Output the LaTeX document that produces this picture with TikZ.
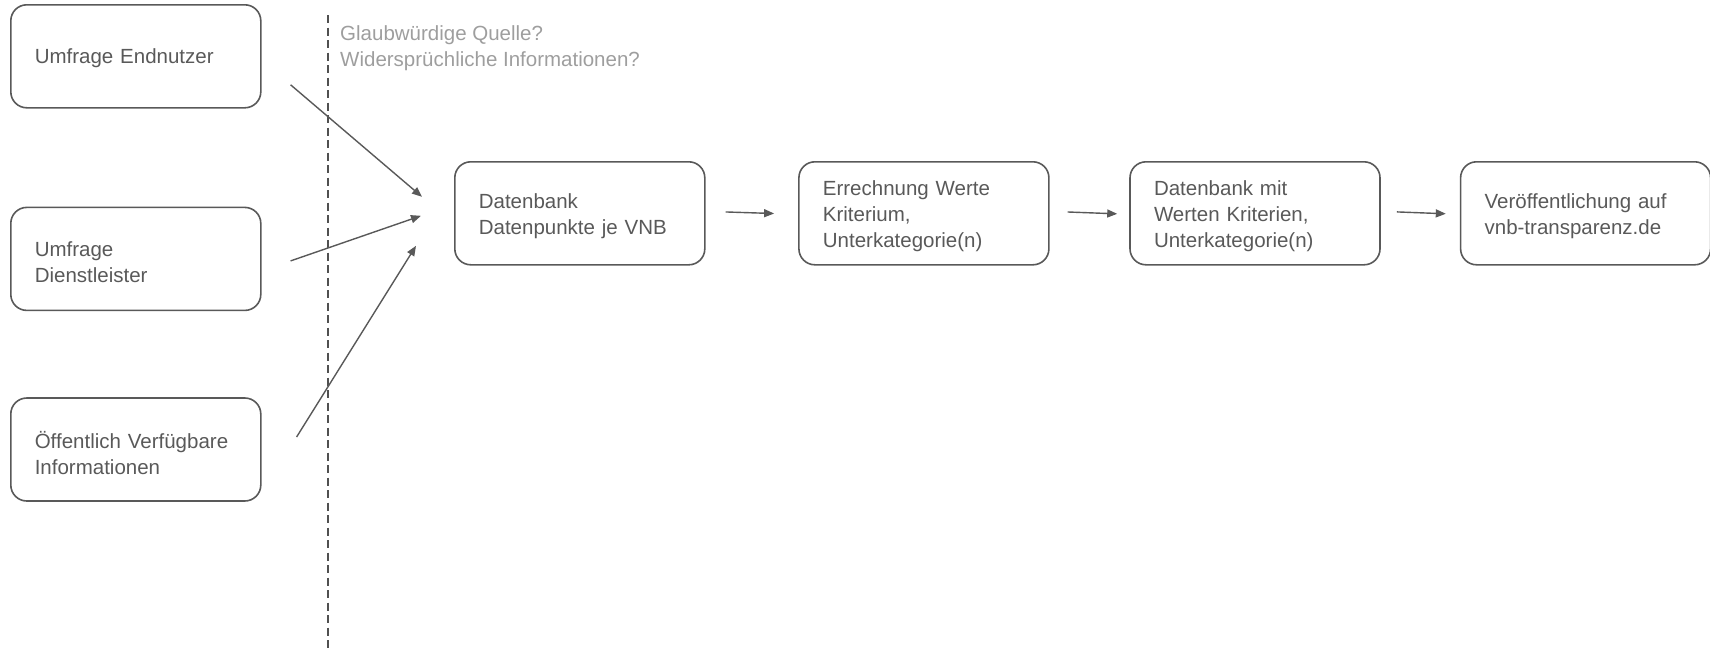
\documentclass[tikz,border=0pt]{standalone}
\usepackage{fontspec}
\setmainfont{Liberation Sans}
\usepackage{tikz}
\usetikzlibrary{positioning}
\usetikzlibrary{calc}
\usetikzlibrary{arrows.meta}

\definecolor{BoxGray}{HTML}{595959}
\definecolor{NoteGray}{HTML}{9E9E9E}

\tikzset{
	box/.style={
		draw=BoxGray,
		line width=1.6pt,
		rounded corners=16pt,
		text=BoxGray,
		text width=202pt,
		inner xsep=24pt,
		minimum height=103pt,
		align=left,
		font=\fontsize{20.5}{26}\selectfont,
		execute at end node={\par\kern-6.6pt}
	},
	flow/.style={
		draw=BoxGray,
		line width=1.4pt,
		-{Triangle[length=10pt,width=8pt]}
	}
}

\begin{document}
\begin{tikzpicture}[x=1pt,y=-1pt]
	\useasboundingbox (0,0) rectangle (1710,651);
	
	\node[
	box,
	anchor=north west
	] (Umfrage-Endnutzer) at (10,4) {Umfrage Endnutzer};
	
	\node[
	box,
	below=98pt of Umfrage-Endnutzer
	] (Umfrage-Dienstleister) {Umfrage\\Dienstleister};
	
	\node[
	box,
	below=86pt of Umfrage-Dienstleister
	] (Oeffentlich-Info) {Öffentlich Verfügbare\\Informationen};
	
	% ---
	
	\node[
	box,
	anchor=north west
	] (DB-Datenpunkte) at (454,161) {Datenbank\\Datenpunkte je VNB};
	
	\node[
	box,
	right=92.5pt of DB-Datenpunkte
	] (Errechnung) {Errechnung Werte\\Kriterium,\\Unterkategorie(n)};
	
	\node[
	box,
	right=79.5pt of Errechnung
	] (DB-Kriterien) {Datenbank mit\\Werten Kriterien,\\Unterkategorie(n)};
	
	\node[
	box,
	right=79pt of DB-Kriterien
	] (Veroeffentlichung) {Veröffentlichung auf\\vnb-transparenz.de};
	
	% ---
	
	\coordinate (Trenn-oben) at (328,15);
	\coordinate (Trenn-unten) at (328,651);
	\draw[
	draw=BoxGray!90!black,
	line width=1.4pt,
	dash pattern=on 8pt off 4.5pt
	] (Trenn-oben) -- (Trenn-unten);
	
	\node[
	anchor=north west,
	align=left,
	inner sep=0pt,
	text=NoteGray,
	font=\fontsize{20.5}{26}\selectfont
	] (Hinweis) at (340,25.3) {Glaubwürdige Quelle?\\Widersprüchliche Informationen?};
	
	% ---
	
	\coordinate (Start-Endnutzer) at ($(Umfrage-Endnutzer.east)+(29,28.5)$);
	\coordinate (Start-Dienstleister) at ($(Umfrage-Dienstleister.east)+(29,2)$);
	\coordinate (Start-Oeffentlich) at ($(Oeffentlich-Info.east)+(35,-12.5)$);
	\coordinate (Ziel-Endnutzer) at ($(DB-Datenpunkte.west)+(-32,-16.5)$);
	\coordinate (Ziel-Dienstleister) at ($(DB-Datenpunkte.west)+(-33,2.5)$);
	\coordinate (Ziel-Oeffentlich) at ($(DB-Datenpunkte.west)+(-38,32.5)$);
	
	\draw[flow] (Start-Endnutzer) -- (Ziel-Endnutzer);
	
	\draw[flow] (Start-Dienstleister) -- (Ziel-Dienstleister);
	
	\draw[flow] (Start-Oeffentlich) -- (Ziel-Oeffentlich);
	
	% ---
	
	\draw[flow, shorten <=20pt, shorten >=24pt] ([yshift=2pt]DB-Datenpunkte.east) -- ([yshift=-1pt]Errechnung.west);
	
	\draw[flow, shorten <=18pt, shorten >=12pt] ([yshift=2pt]Errechnung.east) -- ([yshift=-1pt]DB-Kriterien.west);
	
	\draw[flow, shorten <=16pt, shorten >=14pt] ([yshift=2pt]DB-Kriterien.east) -- ([yshift=-1pt]Veroeffentlichung.west);
\end{tikzpicture}
\end{document}
